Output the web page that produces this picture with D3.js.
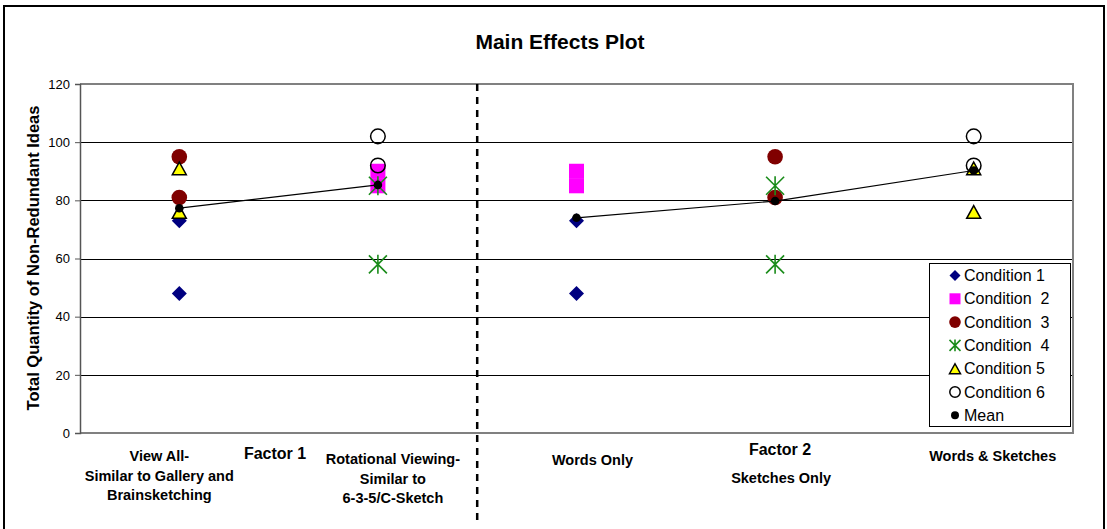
<!DOCTYPE html>
<html><head><meta charset="utf-8">
<script src="https://cdn.jsdelivr.net/npm/d3@7"></script>
<style>
body{margin:0;background:#fff}
svg{display:block}
text{font-family:"Liberation Sans",Arial,Helvetica,sans-serif}
</style>
</head><body>
<svg id="chart" width="1107" height="529"></svg>
<script>
// ---- data ----
const categories = ["View All", "Rotational Viewing", "Words Only", "Sketches Only", "Words & Sketches"];
const categoryLabels = [
  ["View All-", "Similar to Gallery and", "Brainsketching"],
  ["Rotational Viewing-", "Similar to", "6-3-5/C-Sketch"],
  ["Words Only"],
  ["Sketches Only"],
  ["Words & Sketches"]
];
const factorLabels = ["Factor 1", "Factor 2"];
const yTicks = [0, 20, 40, 60, 80, 100, 120];
const condition1 = [["View All", 73], ["View All", 48], ["Words Only", 73], ["Words Only", 48]];
const condition2 = [["Rotational Viewing", 90], ["Rotational Viewing", 85], ["Words Only", 90], ["Words Only", 85]];
const condition3 = [["View All", 95], ["View All", 81], ["Sketches Only", 95], ["Sketches Only", 81]];
const condition4 = [["Rotational Viewing", 85], ["Rotational Viewing", 58], ["Sketches Only", 85], ["Sketches Only", 58]];
const condition5 = [["View All", 91], ["View All", 76], ["Words & Sketches", 91], ["Words & Sketches", 76]];
const condition6 = [["Rotational Viewing", 102], ["Rotational Viewing", 92], ["Words & Sketches", 102], ["Words & Sketches", 92]];
const meanValues = [77.3, 85.3, 74, 79.75, 90.25];
const meanGroups = [["View All", "Rotational Viewing"], ["Words Only", "Sketches Only", "Words & Sketches"]];
const legendLabels = ["Condition 1", "Condition  2", "Condition  3", "Condition  4", "Condition 5", "Condition 6", "Mean"];

(function () {
// ---- layout ----
const svg = d3.select("#chart");
const pLeft = 80, pRight = 1073, pTop = 84, pBottom = 433;
const x = d3.scaleBand().domain(categories).range([pLeft, pRight]);
const y = d3.scaleLinear().domain([0, 120]).range([pBottom, pTop]);
const cx = c => x(c) + x.bandwidth() / 2;

// outer frame
svg.append("rect").attr("x", 4).attr("y", 6).attr("width", 1100).attr("height", 540)
  .attr("fill", "none").attr("stroke", "#000").attr("stroke-width", 2);

// title
svg.append("text").attr("x", 560).attr("y", 49).attr("text-anchor", "middle")
  .attr("font-size", 21).attr("font-weight", "bold").text("Main Effects Plot");

// gridlines
svg.append("g").selectAll("line").data(yTicks.filter(t => t > 0 && t < 120)).join("line")
  .attr("x1", pLeft).attr("x2", pRight).attr("y1", d => Math.round(y(d)) + 0.5).attr("y2", d => Math.round(y(d)) + 0.5)
  .attr("stroke", "#000").attr("stroke-width", 1);

// plot border (top, right, bottom)
svg.append("path")
  .attr("d", `M${pLeft},${y(120)}H${pRight}V${y(0)}H${pLeft}`)
  .attr("fill", "none").attr("stroke", "#808080").attr("stroke-width", 2);

// y axis
const yAxis = svg.append("g").attr("transform", `translate(${pLeft},0)`)
  .call(d3.axisLeft(y).tickValues(yTicks).tickSize(5).tickPadding(5).tickFormat(d3.format("d")));
yAxis.select(".domain").attr("stroke", "#555").attr("stroke-width", 1.5);
yAxis.selectAll(".tick line").attr("stroke", "#555");
yAxis.selectAll(".tick text").attr("font-size", 13).attr("fill", "#000")
  .style("font-family", '"Liberation Sans",Arial,sans-serif');

// y title
svg.append("text").attr("transform", "translate(39,258) rotate(-90)").attr("text-anchor", "middle")
  .attr("font-size", 16.5).attr("font-weight", "bold").text("Total Quantity of Non-Redundant Ideas");

// dashed divider between factor groups
svg.append("line").attr("x1", x("Words Only")).attr("x2", x("Words Only"))
  .attr("y1", y(120)).attr("y2", 524).attr("stroke", "#000").attr("stroke-width", 2.5)
  .attr("stroke-dasharray", "7,6");

// category labels
const labelOffsets = [-20, 15, 16, 6, 19];
const labelBase = [461, 464, 465, 483, 461];
categories.forEach((c, i) => {
  const t = svg.append("text").attr("text-anchor", "middle").attr("font-size", 14.5).attr("font-weight", "bold");
  categoryLabels[i].forEach((ln, j) => {
    t.append("tspan").attr("x", cx(c) + labelOffsets[i]).attr("y", labelBase[i] + j * 19.5).text(ln);
  });
});
// factor labels
svg.append("text").attr("x", 275).attr("y", 459).attr("text-anchor", "middle")
  .attr("font-size", 16).attr("font-weight", "bold").text(factorLabels[0]);
svg.append("text").attr("x", 780).attr("y", 455).attr("text-anchor", "middle")
  .attr("font-size", 16).attr("font-weight", "bold").text(factorLabels[1]);

// ---- marker drawers ----
const markers = {
  diamond: (g, s) => g.append("path").attr("d", `M0,${-s}L${s},0L0,${s}L${-s},0Z`).attr("fill", "#000080"),
  square: (g, s) => g.append("rect").attr("x", -s).attr("y", -s).attr("width", 2 * s).attr("height", 2 * s).attr("fill", "#ff00ff"),
  dot: (g, s) => g.append("circle").attr("r", s).attr("fill", "#800000"),
  star: (g, s) => g.append("path").attr("d", `M${-s},${-s}L${s},${s}M${s},${-s}L${-s},${s}M0,${-s * 1.05}V${s * 1.05}`)
    .attr("stroke", "#1a8c1a").attr("stroke-width", 1.6).attr("fill", "none"),
  triangle: (g, s) => g.append("path").attr("d", `M0,${-s * 0.9}L${s},${s * 0.9}L${-s},${s * 0.9}Z`)
    .attr("fill", "#ffff00").attr("stroke", "#000").attr("stroke-width", 1.5).attr("stroke-linejoin", "miter"),
  ring: (g, s) => g.append("circle").attr("r", s).attr("fill", "none").attr("stroke", "#000").attr("stroke-width", 1.5),
  mean: (g, s) => g.append("circle").attr("r", s).attr("fill", "#000")
};
const seriesList = [
  { data: condition1, m: "diamond", s: 7.5, ls: 5.5 },
  { data: condition2, m: "square", s: 7.5, ls: 5.5 },
  { data: condition3, m: "dot", s: 7.8, ls: 5.8 },
  { data: condition4, m: "star", s: 9, ls: 5.5 },
  { data: condition5, m: "triangle", s: 7, ls: 5.5 },
  { data: condition6, m: "ring", s: 7.3, ls: 5.2 }
];

// points
seriesList.forEach(sr => {
  sr.data.forEach(([c, v]) => {
    const g = svg.append("g").attr("transform", `translate(${cx(c)},${y(v)})`);
    markers[sr.m](g, sr.s);
  });
});

// mean lines
const meanOf = c => meanValues[categories.indexOf(c)];
const lineGen = d3.line().x(c => cx(c)).y(c => y(meanOf(c)));
meanGroups.forEach(grp => {
  svg.append("path").attr("d", lineGen(grp)).attr("fill", "none").attr("stroke", "#000").attr("stroke-width", 1.2);
});
categories.forEach(c => {
  const g = svg.append("g").attr("transform", `translate(${cx(c)},${y(meanOf(c))})`);
  markers.mean(g, 4.3);
});

// legend
const lg = svg.append("g").attr("transform", "translate(929,263)");
lg.append("rect").attr("x", 0.5).attr("y", 0.5).attr("width", 141).attr("height", 163)
  .attr("fill", "#fff").attr("stroke", "#000").attr("stroke-width", 1);
const legendMarkers = [...seriesList.map(s => [s.m, s.ls]), ["mean", 4]];
legendLabels.forEach((lab, i) => {
  const yy = 12.5 + i * 23.3;
  const g = lg.append("g").attr("transform", `translate(26,${yy})`);
  markers[legendMarkers[i][0]](g, legendMarkers[i][1]);
  lg.append("text").attr("x", 35).attr("y", yy + 5.5).attr("font-size", 16)
    .attr("xml:space", "preserve").style("white-space", "pre").text(lab);
});
})();
</script>
</body></html>
